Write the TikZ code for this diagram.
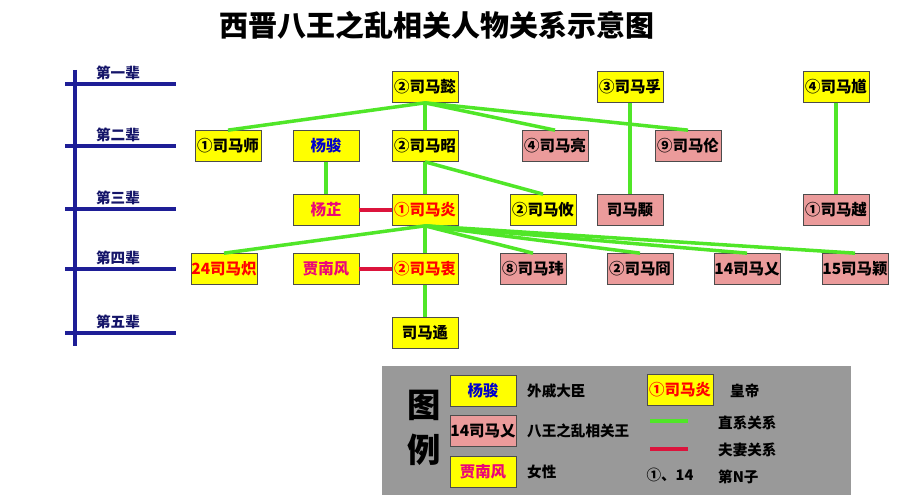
\documentclass[tikz,border=0pt]{standalone}
\usepackage{fontspec}
\setmainfont{Noto Sans CJK SC}
\definecolor{boxyellow}{RGB}{255,255,0}
\definecolor{boxpink}{RGB}{235,155,155}
\definecolor{linegreen}{RGB}{80,230,40}
\definecolor{linered}{RGB}{220,20,60}
\definecolor{axisblue}{RGB}{30,30,150}
\definecolor{legendgray}{RGB}{153,153,153}
\tikzset{
  person/.style={draw=black!70,fill=boxyellow,minimum width=1.32cm,minimum height=0.62cm,inner sep=0pt,font=\fontsize{8.8}{10}\selectfont\bfseries},
  wang/.style={person,fill=boxpink},
  kin/.style={linegreen,line width=2pt},
  wed/.style={linered,line width=2pt},
  gen/.style={font=\fontsize{8.3}{10}\selectfont\bfseries}
}
\begin{document}
\begin{tikzpicture}[x=0.02cm,y=-0.02cm]
\useasboundingbox (0,0) rectangle (904,500);
\node[font=\fontsize{16.5}{18}\selectfont\bfseries] (title) at (437,25) {西晋八王之乱相关人物关系示意图};

% generations axis
\draw[axisblue,line width=1.8pt] (75,70) -- (75,346);
\foreach \yy/\lab in {84/第一辈,146/第二辈,209/第三辈,269/第四辈,333/第五辈}{
  \draw[axisblue,line width=1.8pt] (65,\yy) -- (176,\yy);
  \node[gen,axisblue!70!black] at (118,\yy-11) {\lab};
}

% people
\node[person] (yi) at (425,87) {②司马懿};
\node[person] (fu) at (630,87) {③司马孚};
\node[person] (kui) at (836,87) {④司马馗};

\node[person] (shi) at (228,146) {①司马师};
\node[person,text=blue!80!black] (jun) at (326,146) {杨骏};
\node[person] (zhao) at (425,146) {②司马昭};
\node[wang] (liang) at (555,146) {④司马亮};
\node[wang] (lun) at (688,146) {⑨司马伦};

\node[person,text=magenta!80!red] (zhi) at (326,210) {杨芷};
\node[person,text=red] (yan) at (425,210) {①司马炎};
\node[person] (you) at (543,210) {②司马攸};
\node[wang] (yong) at (630,210) {司马颙};
\node[wang] (yue) at (836,210) {①司马越};

\node[person,text=red] (chi) at (224,269) {24司马炽};
\node[person,text=magenta!80!red] (nanfeng) at (326,269) {贾南风};
\node[person,text=red] (zhong) at (425,269) {②司马衷};
\node[wang] (wei) at (533,269) {⑧司马玮};
\node[wang] (jiong) at (640,269) {②司马冏};
\node[wang] (ai) at (747,269) {14司马乂};
\node[wang] (ying) at (855,269) {15司马颖};

\node[person] (yu) at (425,333) {司马遹};

% relations
\foreach \c in {shi,zhao,liang,lun} \draw[kin] (yi.south) -- (\c.north);
\draw[kin] (fu) -- (yong);
\draw[kin] (kui) -- (yue);
\draw[kin] (jun) -- (zhi);
\foreach \c in {yan,you} \draw[kin] (zhao.south) -- (\c.north);
\foreach \c in {chi,zhong,wei,jiong,ai,ying} \draw[kin] (yan.south) -- (\c.north);
\draw[kin] (zhong) -- (yu);
\draw[wed] (zhi) -- (yan);
\draw[wed] (nanfeng) -- (zhong);

% legend
\fill[legendgray,draw=black!40] (382,366) rectangle (850,494);
\node[font=\fontsize{19}{21}\selectfont\bfseries] (tu) at (424,405) {图};
\node[font=\fontsize{19}{21}\selectfont\bfseries] (li) at (424,450) {例};
\node[person,text=blue!80!black] (lg1) at (483,391) {杨骏};
\node[wang] (lg2) at (483,431) {14司马乂};
\node[person,text=magenta!80!red] (lg3) at (483,472) {贾南风};
\node[gen,anchor=west] at (521,391) {外戚大臣};
\node[gen,anchor=west] at (521,431) {八王之乱相关王};
\node[gen,anchor=west] at (521,472) {女性};
\node[person,text=red] (lg4) at (680,390) {①司马炎};
\node[gen,anchor=west] at (724,391) {皇帝};
\coordinate (g1) at (650,421); \coordinate (g2) at (688,421);
\draw[kin] (g1) -- (g2);
\coordinate (r1) at (650,449); \coordinate (r2) at (688,449);
\draw[wed] (r1) -- (r2);
\node[gen,anchor=west] at (712,423) {直系关系};
\node[gen,anchor=west] at (712,450) {夫妻关系};
\node[gen] at (670,475) {①、14};
\node[gen,anchor=west] at (712,477) {第N子};
\end{tikzpicture}
\end{document}
